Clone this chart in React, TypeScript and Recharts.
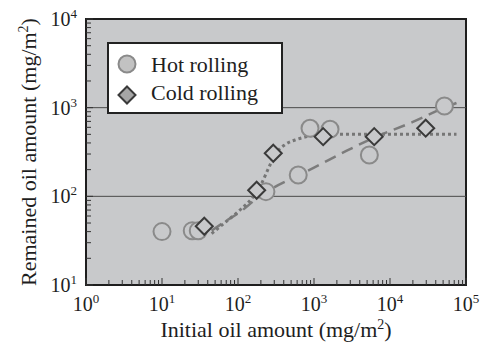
import { ComposedChart, Scatter, Line, XAxis, YAxis, ReferenceLine, ReferenceArea, CartesianGrid, Legend } from "recharts"

// measured points
const hotX = [10, 25, 30, 233, 620, 886, 1625, 5350, 52000]
const hotY = [40, 41, 41, 113, 174, 586, 570, 293, 1045]
const coldX = [36, 176, 291, 1320, 6200, 29500]
const coldY = [46, 117, 306, 471, 471, 587]

// fitted curves as drawn
const hotFitX = [45, 70, 110, 170, 240, 600, 1000, 2700, 6200, 20000, 52000, 75000]
const hotFitY = [41, 53, 68, 92, 113, 170, 211, 327, 460, 690, 1000, 1130]
const coldFitX = [45, 70, 110, 160, 200, 260, 320, 420, 600, 900, 1500, 3000, 10000, 75000]
const coldFitY = [38, 52, 72, 100, 135, 220, 310, 385, 440, 480, 500, 500, 500, 500]

const xDecades = [1, 10, 100, 1000, 10000]
const yDecades = [10, 100, 1000]
const gridLines = [100, 1000]

const hot = hotX.map((x, i) => ({ x, y: hotY[i] }))
const cold = coldX.map((x, i) => ({ x, y: coldY[i] }))
const hotFit = hotFitX.map((x, i) => ({ x, y: hotFitY[i] }))
const coldFit = coldFitX.map((x, i) => ({ x, y: coldFitY[i] }))

const minors = (decades: number[]) =>
  decades.flatMap((d) => [1, 2, 3, 4, 5, 6, 7, 8, 9].map((m) => m * d)).concat(decades[decades.length - 1] * 10)
const xTicks = minors(xDecades)
const yTicks = minors(yDecades)

const serif = "'Liberation Serif', 'Times New Roman', serif"
const ink = "#1e1e1e"
const plotBg = "#c8c9cb"

const isMajor = (v: number) => {
  const e = Math.round(Math.log10(v))
  return { major: Math.abs(v - Math.pow(10, e)) < 1e-6 * v, e }
}

const XTick = (props: any) => {
  const { x, y, payload } = props
  const { major, e } = isMajor(payload.value)
  return (
    <g>
      <line x1={x} x2={x} y1={y} y2={y - (major ? 7 : 5)} stroke="#333" strokeWidth={1} />
      {major && (
        <text x={x} y={y + 26} textAnchor="middle" fontFamily={serif} fontSize={20} fill={ink}>
          10<tspan dy={-8} fontSize={13}>{e}</tspan>
        </text>
      )}
    </g>
  )
}

const YTick = (props: any) => {
  const { x, y, payload } = props
  const { major, e } = isMajor(payload.value)
  return (
    <g>
      <line x1={x} x2={x + (major ? 7 : 5)} y1={y} y2={y} stroke="#333" strokeWidth={1} />
      {major && (
        <text x={x - 9} y={y + 7} textAnchor="end" fontFamily={serif} fontSize={20} fill={ink}>
          10<tspan dy={-8} fontSize={13}>{e}</tspan>
        </text>
      )}
    </g>
  )
}

const Circle = (props: any) => (
  <circle cx={props.cx} cy={props.cy} r={8.5} fill={props.fill ?? plotBg} stroke="#8a8a8a" strokeWidth={2} />
)

const Diamond = (props: any) => {
  const { cx, cy } = props
  const s = 8.5
  return (
    <path
      d={`M${cx},${cy - s}L${cx + s},${cy}L${cx},${cy + s}L${cx - s},${cy}Z`}
      fill={props.fill ?? plotBg}
      stroke="#3a3a3a"
      strokeWidth={2}
    />
  )
}

const LegendBox = () => (
  <div style={{ width: 172, height: 68, border: "2px solid #222", background: "#fff" }}>
    <svg width={172} height={68}>
      <Circle cx={18} cy={20} fill="#c2c2c2" />
      <Diamond cx={18} cy={51} fill="#a6a6a6" />
      <text x={42} y={28} fontFamily={serif} fontSize={22} fill={ink}>Hot rolling</text>
      <text x={42} y={56} fontFamily={serif} fontSize={22} fill={ink}>Cold rolling</text>
    </svg>
  </div>
)

const XTitle = (props: any) => {
  const { viewBox } = props
  const cx = viewBox.x + viewBox.width / 2
  return (
    <text x={cx} y={337} textAnchor="middle" fontFamily={serif} fontSize={22} fill={ink}>
      Initial oil amount (mg/m<tspan dy={-8} fontSize={14}>2</tspan><tspan dy={8}>)</tspan>
    </text>
  )
}

const YTitle = (props: any) => {
  const { viewBox } = props
  const cy = viewBox.y + viewBox.height / 2
  return (
    <text transform={`translate(36,${cy}) rotate(-90)`} textAnchor="middle" fontFamily={serif} fontSize={22} fill={ink}>
      Remained oil amount (mg/m<tspan dy={-8} fontSize={14}>2</tspan><tspan dy={8}>)</tspan>
    </text>
  )
}

export default function App() {
  return (
    <div style={{ position: "absolute", left: 0, top: 0, background: "#fff" }}>
      <ComposedChart width={485} height={347} margin={{ top: 19, right: 19, bottom: 0, left: 0 }}>
        <CartesianGrid horizontal={false} vertical={false} fill={plotBg} />
        <XAxis
          dataKey="x"
          type="number"
          scale="log"
          domain={[1, 100000]}
          allowDataOverflow
          ticks={xTicks}
          interval={0}
          tick={<XTick />}
          tickLine={false}
          tickSize={0}
          tickMargin={0}
          height={62}
          axisLine={{ stroke: ink, strokeWidth: 2 }}
          label={{ content: <XTitle /> }}
        />
        <YAxis
          dataKey="y"
          type="number"
          scale="log"
          domain={[10, 10000]}
          allowDataOverflow
          ticks={yTicks}
          interval={0}
          tick={<YTick />}
          tickLine={false}
          tickSize={0}
          tickMargin={0}
          width={86}
          axisLine={{ stroke: ink, strokeWidth: 2 }}
          label={{ content: <YTitle /> }}
        />
        {gridLines.map((g) => (
          <ReferenceLine key={g} y={g} stroke="#4a4a4a" strokeWidth={1} />
        ))}
        <ReferenceArea x1={1} x2={100000} y1={10} y2={10000} fill="none" stroke={ink} strokeWidth={2} ifOverflow="visible" />
        <Line data={hotFit} dataKey="y" type="monotone" stroke="#7c7c7c" strokeWidth={2.5} strokeDasharray="12 7" dot={false} isAnimationActive={false} />
        <Line data={coldFit} dataKey="y" type="monotone" stroke="#767676" strokeWidth={3} strokeDasharray="3 3" dot={false} isAnimationActive={false} />
        <Scatter name="Hot rolling" data={hot} shape={<Circle />} isAnimationActive={false} />
        <Scatter name="Cold rolling" data={cold} shape={<Diamond />} isAnimationActive={false} />
        <Legend
          layout="vertical"
          align="center"
          verticalAlign="middle"
          content={<LegendBox />}
          wrapperStyle={{ left: 107, top: 42, width: 176, height: 72 }}
        />
      </ComposedChart>
    </div>
  )
}
